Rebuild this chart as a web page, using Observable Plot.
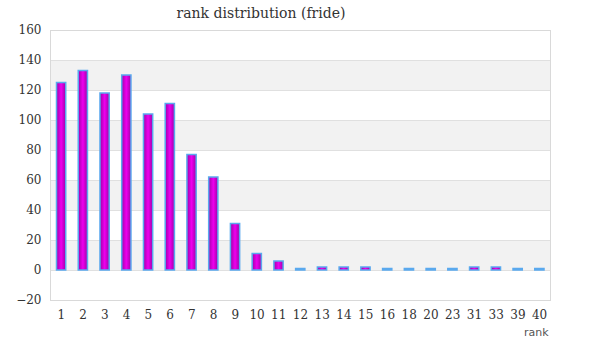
<!DOCTYPE html>
<html><head><meta charset="utf-8">
<script src="https://cdn.jsdelivr.net/npm/d3@7"></script>
<script src="https://cdn.jsdelivr.net/npm/@observablehq/plot@0.6"></script>
<style>
body{margin:0;background:#fff;}
#title{width:522px;height:20px;padding-top:2px;line-height:22px;box-sizing:border-box;text-align:center;font-family:Georgia,"DejaVu Serif",serif;font-size:14px;color:#333;}
</style></head><body>
<div id="title">rank distribution (fride)</div>
<div id="chart"></div>
<script>
const ranks = ["1","2","3","4","5","6","7","8","9","10","11","12","13","14","15","16","18","20","23","31","33","39","40"];
const counts = [125,133,118,130,104,111,77,62,31,11,6,1,2,2,2,1,1,1,1,2,2,1,1];
const yTicks = [-20,0,20,40,60,80,100,120,140,160];
const bandLows = [0,40,80,120];
const bandSize = 20;

const data = ranks.map((r,i)=>({rank:r,count:counts[i]}));
const bands = bandLows.map(b=>({y1:b,y2:b+bandSize}));

const chart = Plot.plot({
  width:600, height:340,
  marginLeft:50, marginRight:50, marginTop:10, marginBottom:60,
  style:{fontFamily:'Georgia,"DejaVu Serif",serif', fontSize:"12px", color:"#333", background:"#fff", overflow:"visible"},
  x:{type:"band", domain:ranks, padding:0, round:false, label:null},
  y:{domain:[-20,160], ticks:yTicks, label:null},
  marks:[
    Plot.rectY(bands,{y1:"y1",y2:"y2",fill:"#f2f2f2"}),
    Plot.gridY(yTicks,{stroke:"#e0e0e0",strokeOpacity:1}),
    Plot.frame({stroke:"#d9d9d9"}),
    Plot.barY(data,{x:"rank",y:"count",insetLeft:6.5,insetRight:6,fill:"url(#barGrad)",stroke:"#5aa9ee",strokeWidth:1.5}),
    Plot.axisY(yTicks,{tickSize:0,tickPadding:9,fontSize:12}),
    Plot.axisX({tickSize:0,tickPadding:10,fontSize:12,label:null}),
    Plot.text(["rank"],{frameAnchor:"bottom-right",dy:35,dx:-2,fontFamily:'Verdana,"DejaVu Sans",sans-serif',fontSize:11,fill:"#555",textAnchor:"end"})
  ]
});
const ns="http://www.w3.org/2000/svg";
const defs=document.createElementNS(ns,"defs");
defs.innerHTML='<linearGradient id="barGrad" x1="0" x2="1" y1="0" y2="0"><stop offset="0" stop-color="#a000a8"/><stop offset="0.5" stop-color="#ee00ee"/><stop offset="1" stop-color="#a000a8"/></linearGradient>';
chart.insertBefore(defs,chart.firstChild);
document.getElementById("chart").appendChild(chart);
</script></body></html>
